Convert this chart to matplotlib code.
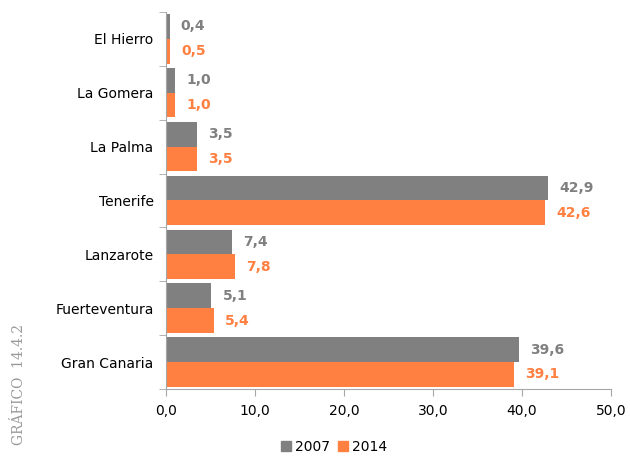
import numpy as np
import matplotlib.pyplot as plt
from matplotlib.patches import Patch

islands = ["El Hierro", "La Gomera", "La Palma", "Tenerife",
           "Lanzarote", "Fuerteventura", "Gran Canaria"]
values_2007 = [0.4, 1.0, 3.5, 42.9, 7.4, 5.1, 39.6]
values_2014 = [0.5, 1.0, 3.5, 42.6, 7.8, 5.4, 39.1]
x_ticks = [0, 10, 20, 30, 40, 50]

GRAY = "#808080"
ORANGE = "#FF8040"
AXIS = "#A6A6A6"

plt.rcParams["font.family"] = "DejaVu Sans"

fig = plt.figure(figsize=(6.3, 4.58), dpi=100)
ax = fig.add_axes([0.2635, 0.1507, 0.7065, 0.8233])

y = np.arange(len(islands))
h = 0.46
ax.barh(y - h / 2, values_2007, height=h, color=GRAY, label="2007")
ax.barh(y + h / 2, values_2014, height=h, color=ORANGE, label="2014")

def fmt(v):
    return "{0:.1f}".format(v).replace(".", ",")

for yi, v in zip(y, values_2007):
    ax.annotate(fmt(v), (v, yi - h / 2), xytext=(8, 0), textcoords="offset points",
                va="center", ha="left", color=GRAY, fontweight="bold", fontsize=10)
for yi, v in zip(y, values_2014):
    ax.annotate(fmt(v), (v, yi + h / 2), xytext=(8, 0), textcoords="offset points",
                va="center", ha="left", color=ORANGE, fontweight="bold", fontsize=10)

ax.set_xlim(0, 50)
ax.set_ylim(len(islands) - 0.5, -0.5)
ax.set_xticks(x_ticks)
ax.set_xticklabels([fmt(t) for t in x_ticks], fontsize=10)
ax.set_yticks(y)
ax.set_yticklabels(islands, fontsize=10)
ax.set_yticks(np.arange(len(islands) + 1) - 0.5, minor=True)
ax.tick_params(axis="y", which="major", length=0, pad=9)
ax.tick_params(axis="y", which="minor", length=5, color=AXIS)
ax.tick_params(axis="x", length=5, color=AXIS, pad=6)

for side in ["top", "right"]:
    ax.spines[side].set_visible(False)
for side in ["left", "bottom"]:
    ax.spines[side].set_color(AXIS)

handles = [Patch(color=GRAY, label="2007"), Patch(color=ORANGE, label="2014")]
fig.legend(handles=handles, loc="center", bbox_to_anchor=(0.53, 0.024), ncol=2,
           frameon=False, fontsize=10, handlelength=0.7, handleheight=0.7,
           handletextpad=0.3, columnspacing=0.6)

fig.text(0.03, 0.16, "GRÁFICO  14.4.2", rotation=90, family="DejaVu Serif",
         color="#999999", fontsize=10, ha="center", va="center")

plt.savefig("out.png", dpi=100)
